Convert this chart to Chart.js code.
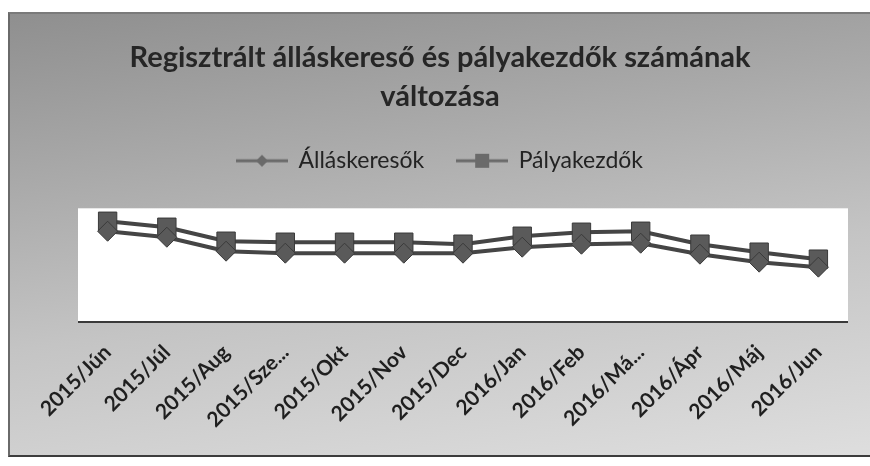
<!DOCTYPE html>
<html>
<head>
<meta charset="utf-8">
<script src="https://cdn.jsdelivr.net/npm/chart.js@4/dist/chart.umd.min.js"></script>
<style>
  html, body { margin: 0; padding: 0; background: #fff; }
  #wrap {
    position: absolute; left: 8px; top: 12px; width: 860px; height: 441px;
    background: linear-gradient(172deg, #8f8f8f 0%, #a9a9a9 30%, #c4c4c4 60%, #dedede 100%);
    border-top: 2px solid #7a7a7a; border-bottom: 2px solid #3c3c3c; border-left: 2px solid #6a6a6a;
  }
</style>
</head>
<body>
<div id="wrap"><canvas id="chart" width="860" height="441"></canvas></div>
<script>
// havi adatok (a kép alapján becsült értékek, tengely nélkül)
var honapok = ['2015/Jún', '2015/Júl', '2015/Aug', '2015/Sze...', '2015/Okt', '2015/Nov', '2015/Dec',
               '2016/Jan', '2016/Feb', '2016/Má...', '2016/Ápr', '2016/Máj', '2016/Jun'];
var allaskeresok = [91, 85, 71, 69, 69, 69, 69, 75, 78, 79, 68, 60, 55];
var palyakezdok = [101, 95, 81, 80, 80, 80, 78, 86, 90, 91, 78, 70, 63];

var lineColor = '#454545';
var markColor = '#5a5a5a';

// legend ikon: vonal + jelölő, mint az Excelben
function legendIcon(style) {
    var c = document.createElement('canvas');
    c.width = 52; c.height = 20;
    var g = c.getContext('2d');
    g.strokeStyle = '#6a6a6a';
    g.lineWidth = 3;
    g.beginPath(); g.moveTo(0, 10); g.lineTo(52, 10); g.stroke();
    g.fillStyle = '#6a6a6a';
    if (style === 'diamond') {
        g.beginPath(); g.moveTo(26, 4); g.lineTo(32, 10); g.lineTo(26, 16); g.lineTo(20, 10); g.closePath(); g.fill();
    } else {
        g.fillRect(19, 3, 14, 14);
    }
    return c;
}

var plotBg = {
    id: 'plotBg',
    beforeLayout: function (chart) {
        // a jelmagyarázat alatt több hely kell
        var lg = chart.legend;
        if (lg && !lg._patched) {
            var fit = lg.fit;
            lg.fit = function () { fit.call(this); this.height += 26; };
            lg._patched = true;
        }
    },
    beforeDraw: function (chart) {
        var a = chart.chartArea, ctx = chart.ctx;
        ctx.save();
        ctx.fillStyle = '#ffffff';
        ctx.fillRect(a.left, a.top, a.right - a.left, a.bottom - a.top);
        ctx.strokeStyle = '#3a3a3a';
        ctx.lineWidth = 2;
        ctx.beginPath(); ctx.moveTo(a.left, a.bottom); ctx.lineTo(a.right, a.bottom); ctx.stroke();
        ctx.restore();
    }
};

var ctx = document.getElementById('chart');
new Chart(ctx, {
    type: 'line',
    data: {
        labels: honapok,
        datasets: [
            {
                label: 'Álláskeresők',
                data: allaskeresok,
                borderColor: lineColor,
                backgroundColor: markColor,
                borderWidth: 4,
                pointStyle: 'rectRot',
                pointRadius: 10,
                pointBorderWidth: 1,
                pointBorderColor: '#3a3a3a',
                pointBackgroundColor: markColor,
                _icon: 'diamond'
            },
            {
                label: 'Pályakezdők',
                data: palyakezdok,
                borderColor: lineColor,
                backgroundColor: markColor,
                borderWidth: 4,
                pointStyle: 'rect',
                pointRadius: 13,
                pointBorderWidth: 1,
                pointBorderColor: '#3a3a3a',
                pointBackgroundColor: markColor,
                _icon: 'square'
            }
        ]
    },
    options: {
        responsive: false,
        animation: false,
        layout: { padding: 0 },
        plugins: {
            title: {
                display: true,
                text: ['Regisztrált álláskereső és pályakezdők számának', 'változása'],
                color: '#262626',
                font: { family: 'Lato', size: 29, weight: 'bold', lineHeight: 1.35 },
                padding: { top: 24, bottom: 0 }
            },
            legend: {
                position: 'top',
                labels: {
                    usePointStyle: true,
                    pointStyleWidth: 50,
                    padding: 33,
                    color: '#232323',
                    font: { family: 'Lato', size: 23 },
                    generateLabels: function (chart) {
                        return chart.data.datasets.map(function (ds, i) {
                            return {
                                text: ds.label,
                                datasetIndex: i,
                                pointStyle: legendIcon(ds._icon),
                                fontColor: '#232323',
                                lineWidth: 0,
                                hidden: false
                            };
                        });
                    }
                }
            },
            tooltip: { enabled: false }
        },
        scales: {
            x: {
                offset: true,
                grid: { display: false },
                border: { display: false },
                ticks: {
                    maxRotation: 45,
                    minRotation: 45,
                    autoSkip: false,
                    padding: 10,
                    color: '#1f1f1f',
                    font: { family: 'Lato', size: 21, weight: 'bold' }
                },
                afterFit: function (s) {
                    s.height = 133;
                    s.paddingLeft = 0;
                    s.paddingRight = 0;
                }
            },
            y: {
                display: true,
                min: 0,
                max: 114,
                ticks: { display: false },
                grid: { display: false },
                border: { display: false },
                afterFit: function (s) { s.width = 68; }
            },
            y2: {
                display: true,
                position: 'right',
                ticks: { display: false },
                grid: { display: false },
                border: { display: false },
                afterFit: function (s) { s.width = 22; }
            }
        }
    },
    plugins: [plotBg]
});
</script>
</body>
</html>
